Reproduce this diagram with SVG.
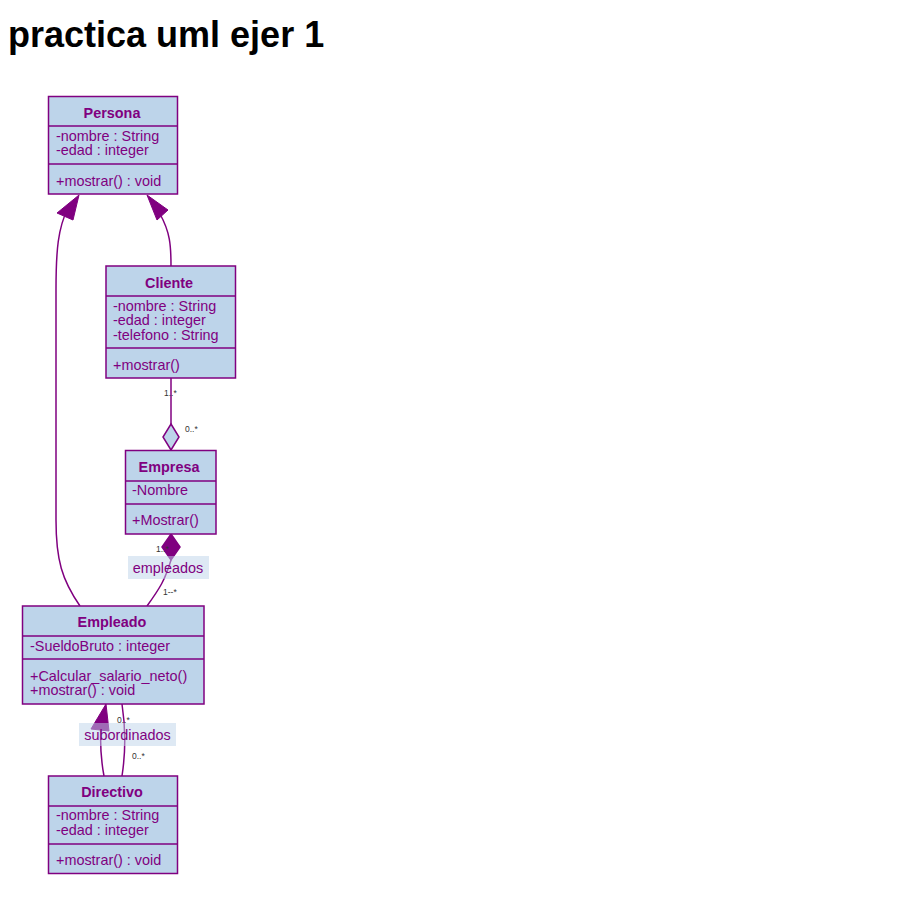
<svg xmlns="http://www.w3.org/2000/svg" width="918" height="918" viewBox="0 0 918 918">
<style>
.box{fill:#bdd4ea;stroke:#800080;stroke-width:1.5}
.sep{stroke:#800080;stroke-width:1.5}
.t{font-family:"Liberation Sans",Arial,sans-serif;font-size:14.4px;fill:#800080}
.b{font-weight:bold;text-anchor:middle}
.c{fill:none;stroke:#800080;stroke-width:1.5}
.m{font-family:"Liberation Sans",Arial,sans-serif;font-size:8.5px;fill:#333}
.lb{fill:#bdd4ea;opacity:0.5}
</style>
<rect width="918" height="918" fill="#fff"/>
<text x="8" y="47" font-family="Liberation Sans,Arial,sans-serif" font-size="36" font-weight="bold" fill="#000">practica uml ejer 1</text>
<g id="connectors">
<path class="c" d="M80,606 C62,580 56,560 56,520 L56,290 C56,250 58,228 68,208"/>
<polygon points="79,195 57,213 73,220" fill="#800080" stroke="#800080"/>
<path class="c" d="M171,266 C171,245 170,232 160,214"/>
<polygon points="147,195 157,220 168,210" fill="#800080" stroke="#800080"/>
<line class="c" x1="171" y1="378" x2="171" y2="424"/>
<polygon points="171,424 179,437 171,450 163,437" fill="#bdd4ea" stroke="#800080" stroke-width="1.5"/>
<text class="m" x="164" y="396">1..*</text>
<text class="m" x="185" y="432">0..*</text>
<polygon points="171,534 180,547 171,560 162,547" fill="#800080" stroke="#800080" stroke-width="1.5"/>
<path class="c" d="M171,560 C165,580 160,588 147,606"/>
<text class="m" x="156" y="552">1..*</text>
<text class="m" x="163" y="595">1--*</text>
<rect class="lb" x="128" y="556" width="81" height="23"/>
<text class="t" x="168" y="573" text-anchor="middle">empleados</text>
<path class="c" d="M104,776 C100,755 100,740 101,722"/>
<polygon points="106,704 91,729 109,731" fill="#800080" stroke="#800080"/>
<path class="c" d="M122,776 C126,750 126,730 122,704"/>
<text class="m" x="117" y="723">0..*</text>
<text class="m" x="132" y="759">0..*</text>
<rect class="lb" x="79" y="723" width="97" height="23"/>
<text class="t" x="127.5" y="740" text-anchor="middle">subordinados</text>
</g>
<g id="Persona">
<rect class="box" x="48.5" y="96.5" width="129" height="97.5"/>
<line class="sep" x1="48.5" y1="126" x2="177.5" y2="126"/>
<line class="sep" x1="48.5" y1="164" x2="177.5" y2="164"/>
<text class="t b" x="112" y="118">Persona</text>
<text class="t" x="56" y="141">-nombre : String</text>
<text class="t" x="56" y="155">-edad : integer</text>
<text class="t" x="56" y="186">+mostrar() : void</text>
</g>
<g id="Cliente">
<rect class="box" x="106" y="266" width="129.5" height="112"/>
<line class="sep" x1="106" y1="296" x2="235.5" y2="296"/>
<line class="sep" x1="106" y1="348" x2="235.5" y2="348"/>
<text class="t b" x="169" y="288">Cliente</text>
<text class="t" x="113" y="311">-nombre : String</text>
<text class="t" x="113" y="325">-edad : integer</text>
<text class="t" x="113" y="340">-telefono : String</text>
<text class="t" x="113" y="370">+mostrar()</text>
</g>
<g id="Empresa">
<rect class="box" x="125.5" y="450.5" width="90.5" height="83.5"/>
<line class="sep" x1="125.5" y1="481" x2="216" y2="481"/>
<line class="sep" x1="125.5" y1="504" x2="216" y2="504"/>
<text class="t b" x="169" y="472">Empresa</text>
<text class="t" x="132" y="495">-Nombre</text>
<text class="t" x="132" y="525">+Mostrar()</text>
</g>
<g id="Empleado">
<rect class="box" x="22.5" y="606" width="181.5" height="98"/>
<line class="sep" x1="22.5" y1="636" x2="204" y2="636"/>
<line class="sep" x1="22.5" y1="659" x2="204" y2="659"/>
<text class="t b" x="112" y="627">Empleado</text>
<text class="t" x="30" y="651">-SueldoBruto : integer</text>
<text class="t" x="30" y="681">+Calcular_salario_neto()</text>
<text class="t" x="30" y="695">+mostrar() : void</text>
</g>
<g id="Directivo">
<rect class="box" x="48.5" y="776" width="129" height="97.5"/>
<line class="sep" x1="48.5" y1="806" x2="177.5" y2="806"/>
<line class="sep" x1="48.5" y1="844" x2="177.5" y2="844"/>
<text class="t b" x="112" y="797">Directivo</text>
<text class="t" x="56" y="820">-nombre : String</text>
<text class="t" x="56" y="835">-edad : integer</text>
<text class="t" x="56" y="865">+mostrar() : void</text>
</g>
</svg>
